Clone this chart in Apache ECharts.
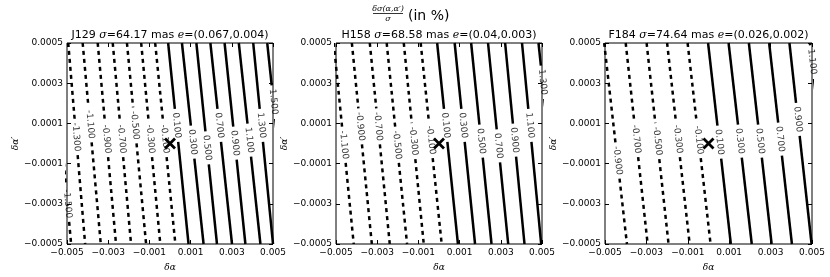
<!DOCTYPE html>
<html><head><meta charset="utf-8">
<script src="https://cdn.jsdelivr.net/npm/echarts@6/dist/echarts.min.js"></script>
<style>html,body{margin:0;padding:0;background:#fff}#c{width:830px;height:277px}</style>
</head><body><div id="c"></div>
<script>
// ---- data ----
const panelNames = ['J129', 'H158', 'F184'];
const panelSigma = ['64.17', '68.58', '74.64'];
const panelE = ['(0.067,0.004)', '(0.04,0.003)', '(0.026,0.002)'];
const xTickValues = [-0.005, -0.003, -0.001, 0.001, 0.003, 0.005];
const yTickValues = [-0.0005, -0.0003, -0.0001, 0.0001, 0.0003, 0.0005];
const markerPoint = [0, 0];

// contour levels (%) and x positions where each line meets the top (y=0.0005) and bottom (y=-0.0005)
const levels1 = [-1.5, -1.3, -1.1, -0.9, -0.7, -0.5, -0.3, -0.1, 0.1, 0.3, 0.5, 0.7, 0.9, 1.1, 1.3, 1.5];
const xTop1 = [-0.00568, -0.00494, -0.00424, -0.00351, -0.00278, -0.00209, -0.00140, -0.00072, -0.00009, 0.00058, 0.00128, 0.00196, 0.00265, 0.00334, 0.00404, 0.00472];
const xBot1 = [-0.00480, -0.00412, -0.00336, -0.00262, -0.00189, -0.00116, -0.00047, 0.00026, 0.00090, 0.00163, 0.00228, 0.00301, 0.00366, 0.00439, 0.00500, 0.00575];
const labelY1 = [-0.00030, 0.000032, 0.000095, 0.000022, 0.000022, 0.000090, 0.000022, 0.000022, 0.000090, 0.000007, -0.000022, 0.000090, 0.000002, 0.000017, 0.000090, 0.000207];

const levels2 = [-1.1, -0.9, -0.7, -0.5, -0.3, -0.1, 0.1, 0.3, 0.5, 0.7, 0.9, 1.1, 1.3];
const xTop2 = [-0.00511, -0.00423, -0.00336, -0.00254, -0.00171, -0.00089, -0.00009, 0.00076, 0.00156, 0.00238, 0.00321, 0.00403, 0.00483];
const xBot2 = [-0.00414, -0.00326, -0.00239, -0.00155, -0.00074, 0.00013, 0.00092, 0.00175, 0.00255, 0.00336, 0.00415, 0.00496, 0.00585];
const labelY2 = [-0.000007, 0.000085, 0.000085, -0.000007, 0.000012, 0.000017, 0.000090, 0.000090, 0.000012, -0.000012, 0.000017, 0.000090, 0.000305];

const levels3 = [-0.9, -0.7, -0.5, -0.3, -0.1, 0.1, 0.3, 0.5, 0.7, 0.9, 1.1];
const xTop3 = [-0.00504, -0.00400, -0.00299, -0.00200, -0.00101, -0.00002, 0.00097, 0.00195, 0.00293, 0.00391, 0.00490];
const xBot3 = [-0.00394, -0.00294, -0.00193, -0.00091, 0.00010, 0.00108, 0.00209, 0.00305, 0.00403, 0.00498, 0.00600];
const labelY3 = [-0.000085, 0.000022, 0.000012, 0.000022, 0.000017, 0.000007, 0.000012, 0.000012, 0.000022, 0.000120, 0.000407];

// ---- layout ----
const gridLeft = [67, 336, 605];
const gridW = [206, 206, 207];
const gridTop = 43, gridH = 205;
const XMIN = -0.005, XMAX = 0.005, YMIN = -0.0005, YMAX = 0.0005;
const FONT = 'DejaVu Sans';
const MATH = 'DejaVu Serif';

const cv = document.createElement('canvas').getContext('2d');
cv.font = '9px ' + FONT;
const measure = t => cv.measureText(t).width;

const fmtTick = (v, d) => (v < 0 ? '\u2212' : '') + Math.abs(v).toFixed(d);

const grids = [], xAxes = [], yAxes = [], series = [], graphics = [];
const allLevels = [levels1, levels2, levels3];
const allTop = [xTop1, xTop2, xTop3];
const allBot = [xBot1, xBot2, xBot3];
const allLab = [labelY1, labelY2, labelY3];

for (let p = 0; p < 3; p++) {
  grids.push({left: gridLeft[p], top: gridTop, width: gridW[p], height: gridH,
    show: true, borderColor: '#000', borderWidth: 1, backgroundColor: '#fff'});
  const tickCommon = {show: true, inside: true, length: 4, lineStyle: {color: '#000', width: 1}};
  const noLine = {show: false, onZero: false};
  xAxes.push({gridIndex: p, type: 'value', min: XMIN, max: XMAX, position: 'bottom',
    axisLine: noLine, splitLine: {show: false},
    axisTick: Object.assign({customValues: xTickValues}, tickCommon),
    axisLabel: {customValues: xTickValues, formatter: v => fmtTick(v, 3), fontFamily: FONT, fontSize: 9, color: '#000', margin: 4},
    name: 'δα', nameLocation: 'middle', nameGap: 19,
    nameTextStyle: {fontFamily: MATH, fontStyle: 'italic', fontSize: 9, color: '#000'}});
  xAxes.push({gridIndex: p, type: 'value', min: XMIN, max: XMAX, position: 'top',
    axisLine: noLine, splitLine: {show: false}, axisLabel: {show: false},
    axisTick: Object.assign({customValues: xTickValues}, tickCommon)});
  yAxes.push({gridIndex: p, type: 'value', min: YMIN, max: YMAX, position: 'left',
    axisLine: noLine, splitLine: {show: false},
    axisTick: Object.assign({customValues: yTickValues}, tickCommon),
    axisLabel: {customValues: yTickValues, formatter: v => fmtTick(v, 4), fontFamily: FONT, fontSize: 9, color: '#000', margin: 4},
    name: 'δα′', nameLocation: 'middle', nameGap: 47,
    nameTextStyle: {fontFamily: MATH, fontStyle: 'italic', fontSize: 9, color: '#000'}});
  yAxes.push({gridIndex: p, type: 'value', min: YMIN, max: YMAX, position: 'right',
    axisLine: noLine, splitLine: {show: false}, axisLabel: {show: false},
    axisTick: Object.assign({customValues: yTickValues}, tickCommon)});

  const xi = 2 * p, yi = 2 * p;
  const pxX = gridW[p] / (XMAX - XMIN), pxY = gridH / (YMAX - YMIN);
  const labels = [];
  const lv = allLevels[p], xt = allTop[p], xb = allBot[p], ly = allLab[p];
  lv.forEach((level, i) => {
    const dxPx = (xb[i] - xt[i]) * pxX, dyPx = gridH;
    const len = Math.hypot(dxPx, dyPx);
    const txt = level.toFixed(3);
    const half = measure(txt) / 2 + 4;
    const dyHalf = half * dyPx / len / pxY;
    const xAt = y => xt[i] + (xb[i] - xt[i]) * (YMAX - y) / (YMAX - YMIN);
    const y0 = ly[i];
    const lineStyle = {color: '#000', width: 2.5, type: level < 0 ? [4, 4] : 'solid', cap: 'butt'};
    const base = {type: 'line', xAxisIndex: xi, yAxisIndex: yi, showSymbol: false, symbol: 'none',
      silent: true, animation: false, clip: true, lineStyle};
    series.push(Object.assign({data: [[xt[i], YMAX], [xAt(y0 + dyHalf), y0 + dyHalf]]}, base));
    series.push(Object.assign({data: [[xAt(y0 - dyHalf), y0 - dyHalf], [xb[i], YMIN]]}, base));
    const ang = -Math.atan2(dyPx, dxPx) * 180 / Math.PI;
    labels.push({value: [xAt(y0), y0, txt], label: {rotate: ang}});
  });
  series.push({type: 'scatter', xAxisIndex: xi, yAxisIndex: yi, symbolSize: 0, clip: false,
    silent: true, animation: false, data: labels,
    label: {show: true, position: 'inside', formatter: q => q.value[2], fontFamily: FONT, fontSize: 9, color: '#000'}});
  series.push({type: 'scatter', xAxisIndex: xi, yAxisIndex: yi, silent: true, animation: false,
    symbol: 'path://M0,0L10,10M10,0L0,10', symbolSize: 10, data: [markerPoint],
    itemStyle: {color: 'none', borderColor: '#000', borderWidth: 2.8, opacity: 1}});

  graphics.push({type: 'text', x: gridLeft[p] + gridW[p] / 2, y: 30,
    style: {text: panelNames[p] + ' {m|σ}{n|=}' + panelSigma[p] + ' mas {m|e}{n|=}' + panelE[p],
      font: '11px ' + FONT, fill: '#000', textAlign: 'center',
      rich: {m: {fontFamily: MATH, fontStyle: 'italic', fontSize: 11}, n: {fontFamily: FONT, fontSize: 11}}}});
}

// suptitle: fraction + (in %)
graphics.push({type: 'text', x: 388, y: 8.5, style: {text: 'δσ(α,α′)', font: 'italic 8px ' + MATH, fill: '#000', textAlign: 'center', textVerticalAlign: 'middle'}});
graphics.push({type: 'line', shape: {x1: 373, y1: 13.5, x2: 403, y2: 13.5}, style: {stroke: '#000', lineWidth: 0.8}});
graphics.push({type: 'text', x: 388, y: 18.5, style: {text: 'σ', font: 'italic 8px ' + MATH, fill: '#000', textAlign: 'center', textVerticalAlign: 'middle'}});
graphics.push({type: 'text', x: 408, y: 16.5, style: {text: '(in %)', font: '14px ' + FONT, fill: '#000', textAlign: 'left', textVerticalAlign: 'middle'}});

const chart = echarts.init(document.getElementById('c'), null, {renderer: 'canvas'});
chart.setOption({
  animation: false,
  grid: grids, xAxis: xAxes, yAxis: yAxes, series: series, graphic: graphics
});
</script></body></html>
